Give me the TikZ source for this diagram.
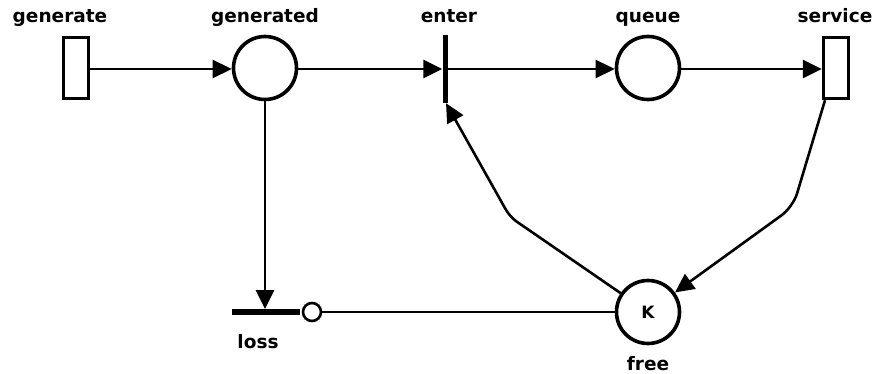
\documentclass[tikz,border=0pt]{standalone}
\usepackage{fontspec}
\setmainfont{DejaVu Sans}
\usetikzlibrary{arrows.meta}
\begin{document}
\begin{tikzpicture}[x=1pt,y=-1pt,
  place/.style={circle,draw,line width=3.6pt,minimum size=63pt,inner sep=0pt},
  trans/.style={rectangle,draw,line width=3.4pt,minimum width=25pt,minimum height=61pt,inner sep=0pt},
  bar/.style={rectangle,fill=black,inner sep=0pt},
  lbl/.style={font=\fontsize{18.5}{20}\selectfont\bfseries,inner sep=0pt,anchor=base},
  arc/.style={line width=2.6pt,-{Triangle[length=19pt,width=18pt]}},
  inhibitor/.style={circle,draw,line width=2.6pt,fill=white,minimum size=18pt,inner sep=0pt},
]
\useasboundingbox (0,0) rectangle (876,374);

% places and transitions
\node[trans] (generate) at (76,68) {};
\node[place] (generated) at (265,68) {};
\node[bar,minimum width=5pt,minimum height=68pt] (enter) at (445,69) {};
\node[place] (queue) at (648,68) {};
\node[trans] (service) at (836,68) {};
\node[bar,minimum width=68pt,minimum height=5.5pt] (loss) at (266,312) {};
\node[place,font=\fontsize{17}{18}\selectfont\bfseries] (free) at (648,312) {K};
\node[inhibitor] (inh) at (312,312) {};

% labels
\node[lbl] (lgenerate) at (60,23) {generate};
\node[lbl] (lgenerated) at (265,23) {generated};
\node[lbl] (lenter) at (449,23) {enter};
\node[lbl] (lqueue) at (648,23) {queue};
\node[lbl] (lservice) at (835,23) {service};
\node[lbl] (lloss) at (258,348) {loss};
\node[lbl] (lfree) at (648,370) {free};

% bend points
\coordinate (b1) at (510,217);
\coordinate (b2) at (793,207);

% arcs
\draw[arc] (generate.east |- 0,69) -- (generated.west |- 0,69);
\draw[arc] (generated.east |- 0,69) -- (enter.west |- 0,69);
\draw[arc] (enter.east |- 0,69) -- (queue.west |- 0,69);
\draw[arc] (queue.east |- 0,69) -- (service.west |- 0,69);
\draw[arc] (generated.south) -- (generated.south |- loss.north);
\draw[arc,rounded corners=8pt] (free) -- (b1) -- ([xshift=1pt]enter.south);
\draw[arc,rounded corners=14pt] (service.south -| 825,0) -- (b2) -- (free);
\draw[line width=2.6pt] (free.west) -- (inh.east);
\end{tikzpicture}
\end{document}
